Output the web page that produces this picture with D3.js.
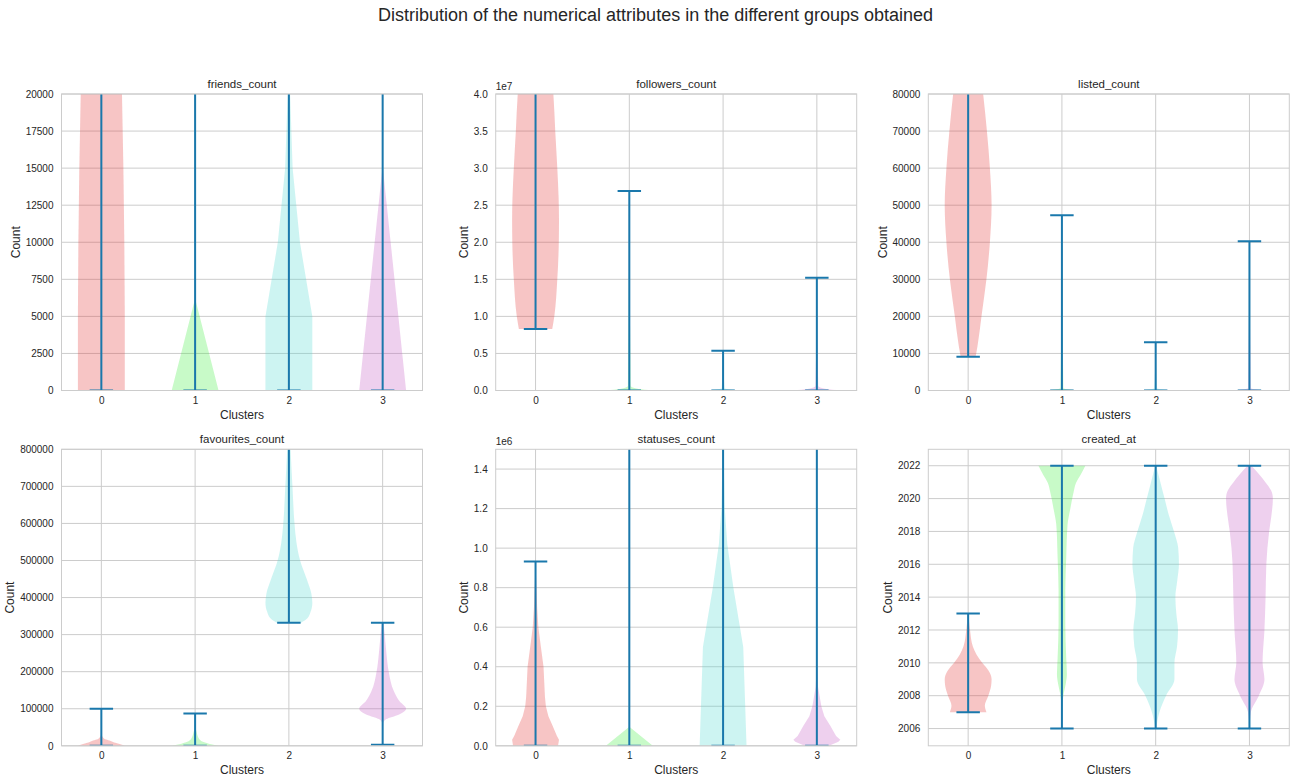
<!DOCTYPE html>
<html>
<head>
<meta charset="utf-8">
<script src="https://cdnjs.cloudflare.com/ajax/libs/d3/7.8.5/d3.min.js"></script>
<style>
  body { margin: 0; background: #fff; }
  svg text { font-family: "Liberation Sans", Arial, sans-serif; fill: #262626; }
</style>
</head>
<body>
<svg id="chart" width="1296" height="783"></svg>
<script>
var clusters = [0, 1, 2, 3];
var titles = ["friends_count", "followers_count", "listed_count", "favourites_count", "statuses_count", "created_at"];

// each violin profile: [value, half width in cluster units]
var friendsMin = [0, 0, 0, 0];
var friendsMax = [45000, 45000, 45000, 45000];
var friendsShape = [
  [[0, 0.25], [5000, 0.25], [10000, 0.245], [15000, 0.235], [20000, 0.22], [30000, 0.16], [45000, 0]],
  [[0, 0.25], [6100, 0.004], [45000, 0]],
  [[0, 0.25], [5000, 0.25], [10000, 0.118], [15000, 0.04], [20000, 0.013], [30000, 0.003], [45000, 0]],
  [[0, 0.25], [15000, 0.003], [45000, 0]]
];

var followersMin = [8.3e6, 0, 0, 0];
var followersMax = [5.5e7, 2.69e7, 5.35e6, 1.52e7];
var followersShape = [
  [[8.3e6, 0.178], [1.0e7, 0.2], [1.5e7, 0.232], [2.0e7, 0.248], [2.3e7, 0.25], [2.6e7, 0.246], [3.0e7, 0.232], [3.5e7, 0.21], [4.0e7, 0.19], [4.8e7, 0.12], [5.5e7, 0]],
  [[0, 0.25], [2e5, 0.1], [6e5, 0.015], [2.69e7, 0]],
  [[0, 0.25], [1e5, 0.1], [3e5, 0.015], [5.35e6, 0]],
  [[0, 0.25], [2e5, 0.1], [6e5, 0.015], [1.52e7, 0]]
];

var listedMin = [9100, 0, 0, 0];
var listedMax = [110000, 47300, 13050, 40300];
var listedShape = [
  [[9100, 0.08], [12000, 0.1], [20000, 0.142], [30000, 0.195], [40000, 0.232], [50000, 0.25], [60000, 0.232], [70000, 0.2], [80000, 0.16], [95000, 0.08], [110000, 0]],
  [[0, 0.25], [200, 0.1], [600, 0.015], [47300, 0]],
  [[0, 0.25], [200, 0.1], [600, 0.015], [13050, 0]],
  [[0, 0.25], [200, 0.1], [600, 0.015], [40300, 0]]
];

var favouritesMin = [0, 0, 332000, 3000];
var favouritesMax = [100000, 87300, 950000, 332000];
var favouritesShape = [
  [[0, 0.25], [3000, 0.22], [8000, 0.15], [13000, 0.1], [17000, 0.05], [22000, 0.02], [30000, 0.005], [100000, 0]],
  [[0, 0.25], [4000, 0.17], [10000, 0.09], [20000, 0.04], [35000, 0.018], [50000, 0.005], [87300, 0]],
  [[332000, 0.13], [345000, 0.2], [360000, 0.23], [385000, 0.25], [410000, 0.24], [450000, 0.19], [500000, 0.12], [550000, 0.08], [600000, 0.06], [700000, 0.038], [800000, 0.018], [950000, 0]],
  [[3000, 0], [60000, 0.005], [72000, 0.04], [84000, 0.17], [100000, 0.25], [120000, 0.18], [147000, 0.12], [200000, 0.065], [250000, 0.04], [300000, 0.022], [332000, 0.008]]
];

var statusesMin = [0, 0, 0, 0];
var statusesMax = [933000, 2e6, 2e6, 2e6];
var statusesShape = [
  [[0, 0.24], [30000, 0.25], [50000, 0.228], [100000, 0.183], [150000, 0.137], [200000, 0.11], [250000, 0.1], [300000, 0.095], [400000, 0.085], [500000, 0.057], [600000, 0.03], [700000, 0.017], [800000, 0.01], [933000, 0]],
  [[0, 0.25], [95000, 0.003], [2e6, 0]],
  [[0, 0.25], [500000, 0.215], [800000, 0.11], [1020000, 0.045], [1200000, 0.018], [1500000, 0.005], [2e6, 0]],
  [[0, 0.13], [20000, 0.23], [30000, 0.25], [50000, 0.205], [100000, 0.145], [150000, 0.08], [200000, 0.048], [250000, 0.03], [300000, 0.012], [400000, 0.003], [2e6, 0]]
];

var createdMin = [2007, 2006, 2006, 2006];
var createdMax = [2013, 2022, 2022, 2022];
var createdShape = [
  [[2007, 0.195], [2007.4, 0.178], [2008, 0.215], [2008.6, 0.245], [2009, 0.25], [2009.5, 0.22], [2010, 0.15], [2010.5, 0.09], [2011, 0.05], [2012, 0.02], [2013, 0.004]],
  [[2006, 0], [2007.3, 0.005], [2008.1, 0.018], [2008.7, 0.04], [2009.3, 0.053], [2010.3, 0.046], [2012.3, 0.036], [2014.4, 0.036], [2016.4, 0.046], [2018.4, 0.06], [2019.4, 0.09], [2020, 0.11], [2020.4, 0.125], [2020.95, 0.15], [2021.45, 0.2], [2022, 0.25]],
  [[2006, 0.005], [2007, 0.04], [2008, 0.11], [2009, 0.2], [2009.5, 0.2], [2010, 0.2], [2011, 0.228], [2012, 0.238], [2013, 0.22], [2014, 0.21], [2015, 0.23], [2016, 0.248], [2017, 0.24], [2018, 0.195], [2019, 0.14], [2020, 0.095], [2021, 0.05], [2022, 0.005]],
  [[2006, 0], [2007, 0.015], [2008, 0.1], [2009, 0.16], [2009.5, 0.15], [2010, 0.14], [2012, 0.16], [2014, 0.172], [2016, 0.18], [2018, 0.21], [2019, 0.235], [2020, 0.25], [2020.5, 0.23], [2021, 0.17], [2021.5, 0.1], [2022, 0.02]]
];

// y axes
var friendsTicks = [0, 2500, 5000, 7500, 10000, 12500, 15000, 17500, 20000];
var followersTicks = [0, 0.5e7, 1e7, 1.5e7, 2e7, 2.5e7, 3e7, 3.5e7, 4e7];
var listedTicks = [0, 10000, 20000, 30000, 40000, 50000, 60000, 70000, 80000];
var favouritesTicks = [0, 100000, 200000, 300000, 400000, 500000, 600000, 700000, 800000];
var statusesTicks = [0, 0.2e6, 0.4e6, 0.6e6, 0.8e6, 1.0e6, 1.2e6, 1.4e6];
var createdTicks = [2006, 2008, 2010, 2012, 2014, 2016, 2018, 2020, 2022];

var fills = ["#e43e3e", "#48ee48", "#58dad4", "#c662c6"];
var lineColor = "#1a78ac";

var panels = [
  {mins: friendsMin, maxs: friendsMax, shapes: friendsShape, dom: [0, 20000], ticks: friendsTicks, fmt: d3.format("d"), exp: null, curve: d3.curveLinear},
  {mins: followersMin, maxs: followersMax, shapes: followersShape, dom: [0, 4e7], ticks: followersTicks, fmt: function (d) { return (d / 1e7).toFixed(1); }, exp: "1e7", curve: d3.curveMonotoneY},
  {mins: listedMin, maxs: listedMax, shapes: listedShape, dom: [0, 80000], ticks: listedTicks, fmt: d3.format("d"), exp: null, curve: d3.curveMonotoneY},
  {mins: favouritesMin, maxs: favouritesMax, shapes: favouritesShape, dom: [0, 800000], ticks: favouritesTicks, fmt: d3.format("d"), exp: null, curve: d3.curveMonotoneY},
  {mins: statusesMin, maxs: statusesMax, shapes: statusesShape, dom: [0, 1.5e6], ticks: statusesTicks, fmt: function (d) { return (d / 1e6).toFixed(1); }, exp: "1e6", curve: d3.curveLinear},
  {mins: createdMin, maxs: createdMax, shapes: createdShape, dom: [2004.95, 2023.0], ticks: createdTicks, fmt: d3.format("d"), exp: null, curve: d3.curveMonotoneY}
];

var svg = d3.select("#chart");
var colLeft = [61.5, 495.7, 928.3];
var rowTop = [94, 449.3];
var w = 361, h = 296.5;

svg.append("text")
  .attr("x", 655.5)
  .attr("y", 21)
  .attr("text-anchor", "middle")
  .style("font-size", "18px")
  .text("Distribution of the numerical attributes in the different groups obtained");

panels.forEach(function (p, k) {
  var g = svg.append("g")
    .attr("transform", "translate(" + colLeft[k % 3] + "," + rowTop[Math.floor(k / 3)] + ")");

  var x = d3.scaleLinear().domain([-0.425, 3.425]).range([0, w]);
  var y = d3.scaleLinear().domain(p.dom).range([h, 0]);

  g.append("clipPath").attr("id", "clip" + k)
    .append("rect").attr("width", w).attr("height", h);

  // grid
  g.append("g").selectAll("line").data(p.ticks).enter().append("line")
    .attr("x1", 0).attr("x2", w)
    .attr("y1", function (d) { return y(d); }).attr("y2", function (d) { return y(d); })
    .attr("stroke", "#cccccc").attr("stroke-width", 1);
  g.append("g").selectAll("line").data(clusters).enter().append("line")
    .attr("y1", 0).attr("y2", h)
    .attr("x1", function (d) { return x(d); }).attr("x2", function (d) { return x(d); })
    .attr("stroke", "#cccccc").attr("stroke-width", 1);

  var plot = g.append("g").attr("clip-path", "url(#clip" + k + ")");

  clusters.forEach(function (c, i) {
    var area = d3.area()
      .curve(p.curve)
      .y(function (d) { return y(d[0]); })
      .x0(function (d) { return x(c - d[1]); })
      .x1(function (d) { return x(c + d[1]); });
    plot.append("path")
      .attr("d", area(p.shapes[i]))
      .attr("fill", fills[i])
      .attr("fill-opacity", 0.3);
  });

  clusters.forEach(function (c, i) {
    plot.append("line")
      .attr("x1", x(c)).attr("x2", x(c))
      .attr("y1", y(p.mins[i])).attr("y2", y(p.maxs[i]))
      .attr("stroke", lineColor).attr("stroke-width", 2);
    [p.mins[i], p.maxs[i]].forEach(function (v) {
      plot.append("line")
        .attr("x1", x(c - 0.125)).attr("x2", x(c + 0.125))
        .attr("y1", y(v)).attr("y2", y(v))
        .attr("stroke", lineColor).attr("stroke-width", 2);
    });
  });

  g.append("rect").attr("width", w).attr("height", h)
    .attr("fill", "none").attr("stroke", "#cccccc").attr("stroke-width", 1);

  var ya = g.append("g")
    .call(d3.axisLeft(y).tickValues(p.ticks).tickFormat(p.fmt).tickSize(0).tickPadding(8));
  ya.select(".domain").remove();
  ya.selectAll("text").style("font-size", "10px").attr("fill", "#262626");
  var yw = ya.node().getBBox().width;

  var xa = g.append("g").attr("transform", "translate(0," + h + ")")
    .call(d3.axisBottom(x).tickValues(clusters).tickFormat(d3.format("d")).tickSize(0).tickPadding(6));
  xa.select(".domain").remove();
  xa.selectAll("text").style("font-size", "10px").attr("fill", "#262626");

  if (p.exp) {
    g.append("text").attr("x", 0).attr("y", -4)
      .style("font-size", "10px").text(p.exp);
  }

  g.append("text")
    .attr("x", w / 2).attr("y", -6)
    .attr("text-anchor", "middle")
    .style("font-size", "11.5px")
    .text(titles[k]);

  g.append("text")
    .attr("x", w / 2).attr("y", h + 28)
    .attr("text-anchor", "middle")
    .style("font-size", "12px")
    .text("Clusters");

  g.append("text")
    .attr("transform", "translate(" + (-yw - 10) + "," + (h / 2) + ") rotate(-90)")
    .attr("text-anchor", "middle")
    .attr("dy", "0.35em")
    .style("font-size", "12px")
    .text("Count");
});
</script>
</body>
</html>
